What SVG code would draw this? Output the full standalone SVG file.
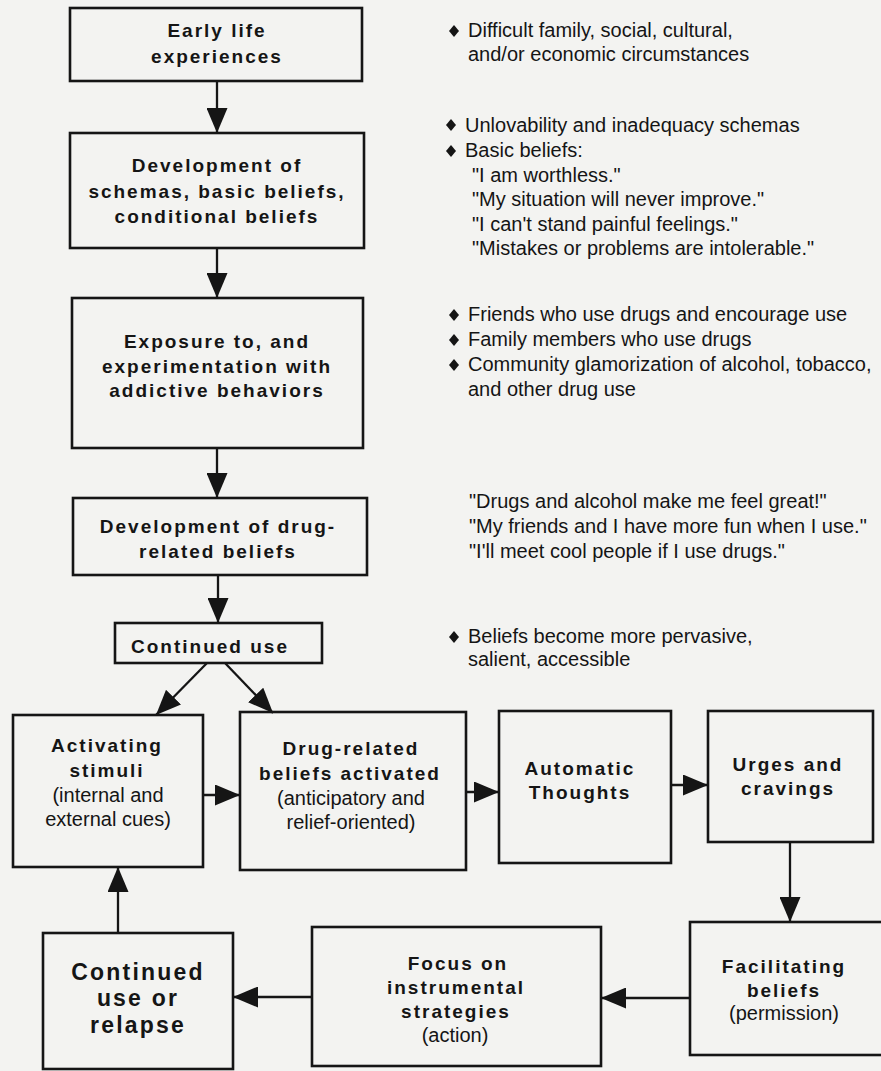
<svg xmlns="http://www.w3.org/2000/svg" width="881" height="1071" viewBox="0 0 881 1071">
  <style>
    .box { fill: none; stroke: #151515; stroke-width: 2.6; }
    .conn { fill: none; stroke: #151515; stroke-width: 2.3; }
    .t { font-family: "Liberation Sans", Arial, sans-serif; fill: #151515; }
    .title { font-size: 19px; font-weight: bold; letter-spacing: 2px; text-anchor: middle; }
    .big { font-size: 23px; font-weight: bold; letter-spacing: 2.2px; text-anchor: middle; }
    .sub { font-size: 20px; text-anchor: middle; }
    .note { font-size: 20px; }
    .bullet { fill: #151515; }
  </style>
  <defs>
    <marker id="head" viewBox="0 0 25 21" refX="25" refY="10.5" markerWidth="25" markerHeight="21" markerUnits="userSpaceOnUse" orient="auto">
      <path d="M0,0 L25,10.5 L0,21 Z" fill="#151515"/>
    </marker>
    <polygon id="dia" points="0,-6 5,0 0,6 -5,0"/>
  </defs>

  <rect width="881" height="1071" fill="#f3f3f1"/>

  <!-- connectors -->
  <g id="connectors">
    <line class="conn" x1="217" y1="81" x2="217" y2="133" marker-end="url(#head)"/>
    <line class="conn" x1="217" y1="248" x2="217" y2="298" marker-end="url(#head)"/>
    <line class="conn" x1="217" y1="448" x2="217" y2="498" marker-end="url(#head)"/>
    <line class="conn" x1="218" y1="575" x2="218" y2="623" marker-end="url(#head)"/>
    <line class="conn" x1="207" y1="663" x2="156" y2="715" marker-end="url(#head)"/>
    <line class="conn" x1="225" y1="663" x2="273" y2="713" marker-end="url(#head)"/>
    <line class="conn" x1="203" y1="795" x2="240" y2="795" marker-end="url(#head)"/>
    <line class="conn" x1="466" y1="792" x2="499" y2="792" marker-end="url(#head)"/>
    <line class="conn" x1="671" y1="785" x2="708" y2="785" marker-end="url(#head)"/>
    <line class="conn" x1="790" y1="842" x2="790" y2="922" marker-end="url(#head)"/>
    <line class="conn" x1="690" y1="998" x2="601" y2="998" marker-end="url(#head)"/>
    <line class="conn" x1="312" y1="997" x2="233" y2="997" marker-end="url(#head)"/>
    <line class="conn" x1="118" y1="933" x2="118" y2="867" marker-end="url(#head)"/>
  </g>

  <!-- vertical chain -->
  <g id="early-life">
    <rect class="box" x="70" y="8" width="292" height="73"/>
    <text class="t title" x="217" y="37">Early life</text>
    <text class="t title" x="217" y="63">experiences</text>
  </g>
  <g id="schemas">
    <rect class="box" x="70" y="133" width="294" height="115"/>
    <text class="t title" x="217" y="172">Development of</text>
    <text class="t title" x="217" y="198">schemas, basic beliefs,</text>
    <text class="t title" x="217" y="223">conditional beliefs</text>
  </g>
  <g id="exposure">
    <rect class="box" x="72" y="298" width="291" height="150"/>
    <text class="t title" x="217" y="348">Exposure to, and</text>
    <text class="t title" x="217" y="373">experimentation with</text>
    <text class="t title" x="217" y="397">addictive behaviors</text>
  </g>
  <g id="drug-beliefs">
    <rect class="box" x="73" y="498" width="294" height="77"/>
    <text class="t title" x="218" y="533">Development of drug-</text>
    <text class="t title" x="218" y="558">related beliefs</text>
  </g>
  <g id="continued-use">
    <rect class="box" x="115" y="623" width="207" height="40"/>
    <text class="t title" x="210" y="653">Continued use</text>
  </g>

  <!-- cycle -->
  <g id="activating-stimuli">
    <rect class="box" x="13" y="715" width="190" height="152"/>
    <text class="t title" x="107" y="752">Activating</text>
    <text class="t title" x="107" y="777">stimuli</text>
    <text class="t sub" x="108" y="802">(internal and</text>
    <text class="t sub" x="108" y="826">external cues)</text>
  </g>
  <g id="beliefs-activated">
    <rect class="box" x="240" y="712" width="226" height="158"/>
    <text class="t title" x="351" y="755">Drug-related</text>
    <text class="t title" x="350" y="780">beliefs activated</text>
    <text class="t sub" x="351" y="805">(anticipatory and</text>
    <text class="t sub" x="351" y="829">relief-oriented)</text>
  </g>
  <g id="automatic-thoughts">
    <rect class="box" x="499" y="711" width="172" height="152"/>
    <text class="t title" x="580" y="775">Automatic</text>
    <text class="t title" x="580" y="799">Thoughts</text>
  </g>
  <g id="urges">
    <rect class="box" x="708" y="711" width="165" height="131"/>
    <text class="t title" x="788" y="771">Urges and</text>
    <text class="t title" x="788" y="795">cravings</text>
  </g>
  <g id="facilitating-beliefs">
    <rect class="box" x="690" y="922" width="205" height="133"/>
    <text class="t title" x="784" y="973">Facilitating</text>
    <text class="t title" x="784" y="997">beliefs</text>
    <text class="t sub" x="784" y="1020">(permission)</text>
  </g>
  <g id="instrumental-strategies">
    <rect class="box" x="312" y="927" width="289" height="139"/>
    <text class="t title" x="458" y="970">Focus on</text>
    <text class="t title" x="456" y="994">instrumental</text>
    <text class="t title" x="456" y="1018">strategies</text>
    <text class="t sub" x="455" y="1042">(action)</text>
  </g>
  <g id="relapse">
    <rect class="box" x="43" y="933" width="190" height="136"/>
    <text class="t big" x="138" y="980">Continued</text>
    <text class="t big" x="138" y="1006">use or</text>
    <text class="t big" x="138" y="1033">relapse</text>
  </g>

  <!-- side notes -->
  <g id="notes">
    <use href="#dia" class="bullet" x="454" y="31"/>
    <text class="t note" x="468" y="37">Difficult family, social, cultural,</text>
    <text class="t note" x="468" y="61">and/or economic circumstances</text>

    <use href="#dia" class="bullet" x="451" y="125"/>
    <text class="t note" x="465" y="132">Unlovability and inadequacy schemas</text>
    <use href="#dia" class="bullet" x="451" y="151"/>
    <text class="t note" x="465" y="157">Basic beliefs:</text>
    <text class="t note" x="472" y="182">"I am worthless."</text>
    <text class="t note" x="472" y="206">"My situation will never improve."</text>
    <text class="t note" x="472" y="231">"I can't stand painful feelings."</text>
    <text class="t note" x="472" y="255">"Mistakes or problems are intolerable."</text>

    <use href="#dia" class="bullet" x="454" y="315"/>
    <text class="t note" x="468" y="321">Friends who use drugs and encourage use</text>
    <use href="#dia" class="bullet" x="454" y="340"/>
    <text class="t note" x="468" y="346">Family members who use drugs</text>
    <use href="#dia" class="bullet" x="454" y="365"/>
    <text class="t note" x="468" y="371">Community glamorization of alcohol, tobacco,</text>
    <text class="t note" x="468" y="396">and other drug use</text>

    <text class="t note" x="469" y="508">"Drugs and alcohol make me feel great!"</text>
    <text class="t note" x="469" y="533">"My friends and I have more fun when I use."</text>
    <text class="t note" x="469" y="558">"I'll meet cool people if I use drugs."</text>

    <use href="#dia" class="bullet" x="454" y="637"/>
    <text class="t note" x="468" y="643">Beliefs become more pervasive,</text>
    <text class="t note" x="468" y="666">salient, accessible</text>
  </g>
</svg>
